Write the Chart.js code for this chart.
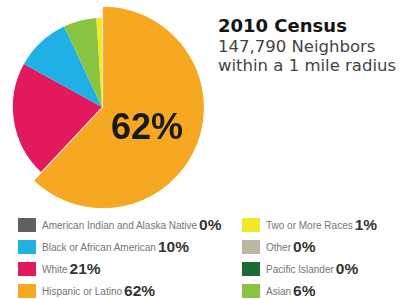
<!DOCTYPE html>
<html>
<head>
<meta charset="utf-8">
<script src="https://cdn.jsdelivr.net/npm/chart.js@4"></script>
<style>
  html, body { margin: 0; padding: 0; background: #ffffff; }
  body { width: 402px; height: 299px; position: relative; overflow: hidden; }
  #wrap { position: absolute; left: 0; top: 0; width: 216px; height: 214px; }
  .t { position: absolute; white-space: nowrap; }
  #t1 { left: 218px; top: 16px; font: bold 18px "DejaVu Sans", sans-serif; line-height: 20px; color: #151515; }
  #t2 { left: 218px; top: 37px; font: 16.5px "DejaVu Sans", sans-serif; line-height: 20px; color: #444; }
  #t3 { left: 218px; top: 56px; font: 16.5px "DejaVu Sans", sans-serif; line-height: 20px; color: #444; }
  #big { left: 111px; top: 109px; font: bold 36px "Liberation Sans", Arial, sans-serif; line-height: 36px; color: #1a1a1a; }
  .row { position: absolute; display: flex; align-items: center; height: 14px; white-space: nowrap; }
  .sw { width: 18px; height: 14px; margin-right: 6px; flex: none; }
  .lab { font: 10px "Liberation Sans", Arial, sans-serif; color: #757575; margin-right: 2px; }
  .pct { font: bold 15.5px "Liberation Sans", Arial, sans-serif; color: #353535; }
</style>
</head>
<body>
<div id="wrap"><canvas id="c" width="216" height="214"></canvas></div>
<div class="t" id="t1">2010 Census</div>
<div class="t" id="t2">147,790 Neighbors</div>
<div class="t" id="t3">within a 1 mile radius</div>
<div class="t" id="big">62%</div>
<div id="legend"></div>
<script>
// Slices in drawing order (clockwise from 12 o'clock)
const categories = ["Hispanic or Latino", "White", "Black or African American", "Asian", "Two or More Races", "American Indian and Alaska Native", "Other", "Pacific Islander"];
const percents = [62, 21, 10, 6, 1, 0, 0, 0];
const colors = ["#F6A822", "#E3195D", "#1FB1E6", "#88C441", "#F2E82B", "#606163", "#BDB4A2", "#1E6A35"];
// Legend layout (two columns)
const legendLeft = ["American Indian and Alaska Native", "Black or African American", "White", "Hispanic or Latino"];
const legendRight = ["Two or More Races", "Other", "Pacific Islander", "Asian"];

const explodedIndex = 0;
const outerColors = colors.map((c, i) => i === explodedIndex ? c : "rgba(0,0,0,0)");
const offsets = colors.map((c, i) => i === explodedIndex ? 5 : 0);
const borders = colors.map((c, i) => i === explodedIndex ? 1 : 0);

new Chart(document.getElementById("c"), {
  type: "pie",
  data: {
    labels: categories,
    datasets: [
      { data: percents, backgroundColor: outerColors, borderColor: outerColors, borderWidth: borders, offset: offsets, weight: 1 },
      { data: percents, backgroundColor: colors, borderColor: colors, borderWidth: borders, offset: offsets, weight: 9 }
    ]
  },
  options: {
    responsive: false,
    animation: false,
    radius: 99,
    devicePixelRatio: 1,
    layout: { padding: { right: 12 } },
    plugins: { legend: { display: false }, tooltip: { enabled: false } }
  }
});

const legend = document.getElementById("legend");
const rowTops = [218, 240, 262, 284];
function addCol(list, swLeft) {
  list.forEach((name, r) => {
    const i = categories.indexOf(name);
    const row = document.createElement("div");
    row.className = "row";
    row.style.left = swLeft + "px";
    row.style.top = rowTops[r] + "px";
    const sw = document.createElement("div");
    sw.className = "sw";
    sw.style.background = colors[i];
    const lab = document.createElement("span");
    lab.className = "lab";
    lab.textContent = name;
    const pct = document.createElement("span");
    pct.className = "pct";
    pct.textContent = percents[i] + "%";
    row.appendChild(sw); row.appendChild(lab); row.appendChild(pct);
    legend.appendChild(row);
  });
}
addCol(legendLeft, 18);
addCol(legendRight, 242);
</script>
</body>
</html>
